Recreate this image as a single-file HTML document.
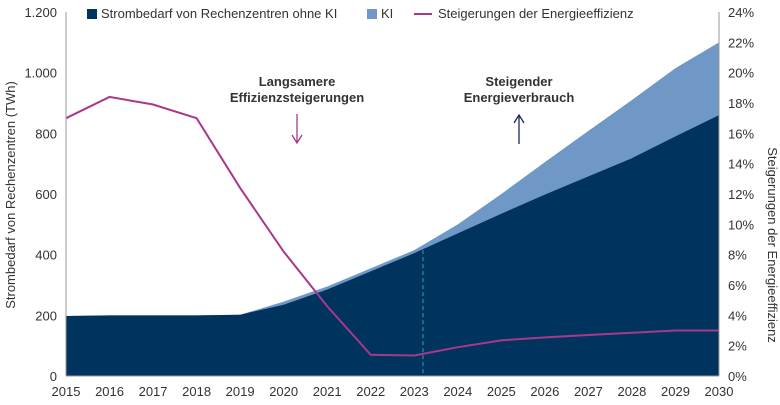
<!DOCTYPE html>
<html><head><meta charset="utf-8"><style>
body{margin:0;background:#fff;}
svg text{font-family:"Liberation Sans",sans-serif;fill:#333;}
</style></head><body>
<svg id="c" width="780" height="400"></svg>
<script>
const years=[2015,2016,2017,2018,2019,2020,2021,2022,2023,2024,2025,2026,2027,2028,2029,2030];
const baseTWh=[198,200,200,200,202,235,285,345,405,470,535,598,658,718,790,860];
const aiTWh=[0,0,0,0,0,10,10,10,10,30,65,107,150,192,225,240];
const effPct=[17,18.4,17.9,17,12.4,8.2,4.6,1.4,1.35,1.9,2.35,2.55,2.7,2.85,3.0,3.0];
const leftTicks=[0,200,400,600,800,1000,1200];
const leftLabels=["0","200","400","600","800","1.000","1.200"];
const rightTicks=[0,2,4,6,8,10,12,14,16,18,20,22,24];
const NS="http://www.w3.org/2000/svg";
const svgC=document.getElementById('c');
const x0=66,x1=719,yb=376,yt=12;
const X=y=>x0+(y-2015)*(x1-x0)/15;
const Y=v=>yb-v*(yb-yt)/1200;
const YR=p=>yb-p*(yb-yt)/24;
function el(t,a){const e=document.createElementNS(NS,t);for(const k in a)e.setAttribute(k,a[k]);svgC.appendChild(e);return e;}
const topPts=years.map((y,i)=>X(y)+','+Y(baseTWh[i]+aiTWh[i]));
const a=el('polygon',{points:topPts.join(' ')+' '+X(2030)+','+yb+' '+X(2015)+','+yb,fill:'#6f98c6'});


const b=el('polygon',{points:years.map((y,i)=>X(y)+','+Y(baseTWh[i])).join(' ')+' '+X(2030)+','+yb+' '+X(2015)+','+yb,fill:'#00335e'});


const d=el('line',{x1:X(2023.2),x2:X(2023.2),y1:Y(baseTWh[8]+10),y2:yb,stroke:'#3aa39a','stroke-dasharray':'4,3','stroke-width':1});


const l=el('polyline',{points:years.map((y,i)=>X(y)+','+YR(effPct[i])).join(' '),fill:'none',stroke:'#a8388c','stroke-width':2});


const la=el('line',{x1:x0,x2:x0,y1:yt,y2:yb,stroke:'#999'});


const ra=el('line',{x1:x1,x2:x1,y1:yt,y2:yb,stroke:'#999'});


const xa=el('line',{x1:x0,x2:x1,y1:yb,y2:yb,stroke:'#999'});


leftTicks.forEach((v,i)=>{const t=el('text',{x:57,y:Y(v)+5,'text-anchor':'end','font-size':13});t.textContent=leftLabels[i];

});
rightTicks.forEach(v=>{const t=el('text',{x:728,y:YR(v)+5,'font-size':13});t.textContent=v+'%';

});
years.forEach(y=>{const t=el('text',{x:X(y),y:396,'text-anchor':'middle','font-size':13});t.textContent=y;

});
</script>
<svg width="780" height="400" style="position:absolute;left:0;top:0">
<text x="15" y="195" transform="rotate(-90 15 195)" text-anchor="middle" font-size="13">Strombedarf von Rechenzentren (TWh)</text>
<text x="768" y="245" transform="rotate(90 768 245)" text-anchor="middle" font-size="13">Steigerungen der Energieeffizienz</text>
<rect x="87" y="9" width="10" height="10" fill="#00335e"/>
<text x="101" y="18" font-size="13">Strombedarf von Rechenzentren ohne KI</text>
<rect x="367" y="9" width="10" height="10" fill="#6f98c6"/>
<text x="381" y="18" font-size="13">KI</text>
<line x1="414" x2="432" y1="14" y2="14" stroke="#a8388c" stroke-width="2"/>
<text x="438" y="18" font-size="13">Steigerungen der Energieeffizienz</text>
<text x="297" y="86" text-anchor="middle" font-size="13" font-weight="bold">Langsamere</text>
<text x="297" y="102" text-anchor="middle" font-size="13" font-weight="bold">Effizienzsteigerungen</text>
<path d="M297 114 V142 M292 135 L297 143 L302 135" stroke="#a8388c" fill="none" stroke-width="1.3"/>
<text x="519" y="86" text-anchor="middle" font-size="13" font-weight="bold">Steigender</text>
<text x="519" y="102" text-anchor="middle" font-size="13" font-weight="bold">Energieverbrauch</text>
<path d="M519 144 V116 M514 123 L519 115 L524 123" stroke="#1a2a5e" fill="none" stroke-width="1.3"/>
</svg>
</body></html>
